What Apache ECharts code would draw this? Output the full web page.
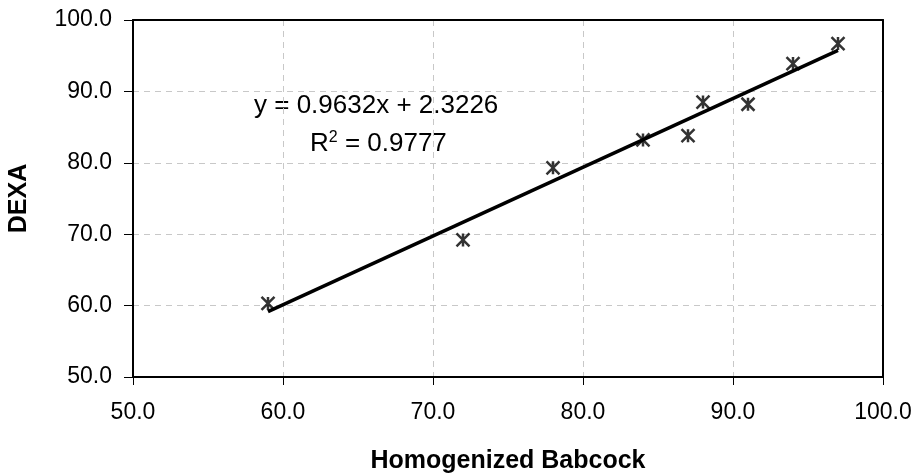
<!DOCTYPE html>
<html>
<head>
<meta charset="utf-8">
<script src="https://cdn.jsdelivr.net/npm/echarts@6/dist/echarts.min.js"></script>
<style>
  html, body { margin: 0; padding: 0; background: #fff; }
  #chart { width: 916px; height: 475px; }
</style>
</head>
<body>
<div id="chart"></div>
<script>
// measured points: Homogenized Babcock (x) vs DEXA (y)
var babcock = [59, 72, 78, 84, 87, 88, 91, 94, 97];
var dexa = [60.3, 69.2, 79.3, 83.2, 83.8, 88.5, 88.2, 93.9, 96.7];
// trendline as printed on the chart
var slope = 0.9632;
var intercept = 2.3226;
var rSquared = 0.9777;
var axisTicks = [50, 60, 70, 80, 90, 100];

var points = babcock.map(function (x, i) { return [x, dexa[i]]; });
var xMin = Math.min.apply(null, babcock);
var xMax = Math.max.apply(null, babcock);
var trend = [[xMin, slope * xMin + intercept], [xMax, slope * xMax + intercept]];

var font = '"Liberation Sans", Arial, sans-serif';
var star = 'path://M0,0L10,10M10,0L0,10M5,0L5,10';
var lo = axisTicks[0], hi = axisTicks[axisTicks.length - 1];

function fmt(v) { return v.toFixed(1); }
// plain axis used only to close the plot box on top / right
function frameAxis(pos) {
    return {
        type: 'value', position: pos, min: lo, max: hi, interval: 10,
        axisLine: {show: true, lineStyle: {color: '#000', width: 2}},
        axisTick: {show: false}, axisLabel: {show: false}, splitLine: {show: false}
    };
}

var myChart = echarts.init(document.getElementById('chart'));
myChart.setOption({
    animation: false,
    grid: {left: 133, right: 33, top: 20, bottom: 98, outerBoundsMode: 'none', containLabel: false},
    xAxis: [{
        type: 'value', min: lo, max: hi, interval: 10,
        name: 'Homogenized Babcock', nameLocation: 'middle', nameGap: 72,
        nameTextStyle: {fontFamily: font, fontSize: 25, fontWeight: 'bold', color: '#000'},
        axisLine: {show: true, lineStyle: {color: '#000', width: 2}},
        axisTick: {show: true, length: 8, lineStyle: {color: '#000'}},
        axisLabel: {fontFamily: font, fontSize: 23, color: '#000', margin: 24, formatter: fmt},
        splitLine: {show: true, lineStyle: {color: '#c8c8c8', type: [6, 5]}}
    }, frameAxis('top')],
    yAxis: [{
        type: 'value', min: lo, max: hi, interval: 10,
        name: 'DEXA', nameLocation: 'middle', nameGap: 101, nameRotate: 90,
        nameTextStyle: {fontFamily: font, fontSize: 25, fontWeight: 'bold', color: '#000'},
        axisLine: {show: true, lineStyle: {color: '#000', width: 2}},
        axisTick: {show: true, length: 9, lineStyle: {color: '#000'}},
        axisLabel: {fontFamily: font, fontSize: 23, color: '#000', margin: 21, formatter: fmt},
        splitLine: {show: true, lineStyle: {color: '#c8c8c8', type: [6, 5]}}
    }, frameAxis('right')],
    series: [
        {
            type: 'line', data: trend, symbol: 'none', silent: true,
            lineStyle: {color: '#000', width: 3.5}, z: 2
        },
        {
            type: 'scatter', data: points, symbol: star, symbolSize: 13,
            itemStyle: {color: 'none', borderColor: '#000', borderWidth: 2.5}, z: 3
        }
    ],
    graphic: [
        {type: 'text', left: 254, top: 93, style: {
            text: 'y = ' + slope + 'x + ' + intercept,
            font: '26px ' + font, fill: '#000'}},
        {type: 'text', left: 310, top: 130, style: {
            text: 'R{sup|2} = ' + rSquared,
            font: '26px ' + font, fill: '#000',
            rich: {sup: {fontSize: 16, fontFamily: font, verticalAlign: 'top', padding: [0, 0, 12, 0]}}}}
    ]
});
</script>
</body>
</html>
